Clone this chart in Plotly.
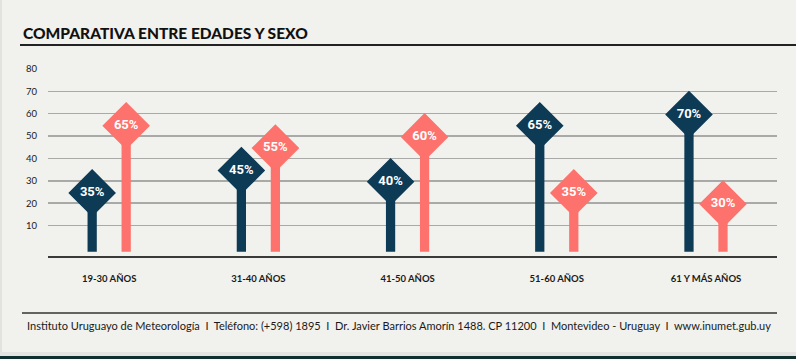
import plotly.graph_objects as go

categories = ["19-30 AÑOS", "31-40 AÑOS", "41-50 AÑOS", "51-60 AÑOS", "61 Y MÁS AÑOS"]
navy_pct = [35, 45, 40, 65, 70]
salmon_pct = [65, 55, 60, 35, 30]
y_ticks = [10, 20, 30, 40, 50, 60, 70, 80]
title_text = "COMPARATIVA ENTRE EDADES Y SEXO"
footer_text = ("Instituto Uruguayo de Meteorología  I  Teléfono: (+598) 1895  I  "
               "Dr. Javier Barrios Amorín 1488. CP 11200  I  Montevideo - Uruguay  I  www.inumet.gub.uy")

NAVY = "#0d3a55"
SALMON = "#fd726c"
BG = "#f1f1ed"

W, H = 796, 359
ML, MR, MT, MB = 48, 19, 68, 103
PW, PH = W - ML - MR, H - MT - MB

def px_x(x):
    return (x - ML) / PW

def px_y(y):
    return (H - MB - y) / PH

DIAMOND_HALF = 10.4   # half height of the diamond in axis units
STEM_BASE = -1.7
STEM_W = 0.062
PAIR_OFF = 0.114

x_idx = list(range(len(categories)))

fig = go.Figure()

for vals, color, sign in [(navy_pct, NAVY, -1), (salmon_pct, SALMON, 1)]:
    tops = [v - DIAMOND_HALF for v in vals]
    fig.add_trace(go.Bar(
        x=x_idx, y=[t - STEM_BASE for t in tops], base=STEM_BASE,
        width=STEM_W, offset=sign * PAIR_OFF - STEM_W / 2,
        marker=dict(color=color, line=dict(width=0)),
        hoverinfo="skip", showlegend=False,
    ))
    fig.add_trace(go.Scatter(
        x=[i + sign * PAIR_OFF for i in x_idx], y=tops,
        mode="markers+text",
        marker=dict(symbol="diamond", size=35, color=color,
                    line=dict(color=color, width=1.5)),
        text=[f"{v}%" for v in vals], textposition="middle center",
        textfont=dict(family="Roboto", size=13, color="white", weight="bold"),
        cliponaxis=False, showlegend=False, hoverinfo="skip",
    ))

fig.update_layout(
    width=W, height=H,
    margin=dict(l=ML, r=MR, t=MT, b=MB),
    paper_bgcolor=BG, plot_bgcolor=BG,
    barmode="overlay",
    xaxis=dict(range=[-0.41, 4.476], tickvals=x_idx, ticktext=categories,
               showgrid=False, zeroline=False, showline=True,
               linecolor="#3a3a3a", linewidth=2.2, ticks="",
               ticklabelstandoff=12,
               tickfont=dict(family="Lato", size=9.5, color="#1a1a1a", weight="bold"),
               fixedrange=True),
    yaxis=dict(range=[-3.6, 80.4], tickvals=y_ticks, ticktext=[str(t) for t in y_ticks],
               showgrid=True, gridcolor="#a9a9a7", gridwidth=1.4,
               zeroline=False, showline=False, ticks="",
               ticklabelstandoff=10,
               tickfont=dict(family="Lato", size=9.5, color="#1a1a1a"),
               fixedrange=True),
    shapes=[
        dict(type="line", xref="paper", yref="paper",
             x0=px_x(20), x1=px_x(796), y0=px_y(45), y1=px_y(45),
             line=dict(color="#222222", width=1.8)),
        dict(type="line", xref="paper", yref="paper",
             x0=px_x(22), x1=px_x(777), y0=px_y(313), y1=px_y(313),
             line=dict(color="#333333", width=1.5)),
        dict(type="rect", xref="paper", yref="paper",
             x0=px_x(0), x1=px_x(796), y0=px_y(352), y1=px_y(356),
             fillcolor="#e4e4e2", line=dict(width=0), layer="above"),
        dict(type="rect", xref="paper", yref="paper",
             x0=px_x(0), x1=px_x(796), y0=px_y(356), y1=px_y(360),
             fillcolor="#10302f", line=dict(width=0), layer="above"),
        dict(type="rect", xref="paper", yref="paper",
             x0=px_x(0), x1=px_x(2), y0=px_y(0), y1=px_y(352),
             fillcolor="#e2e2e0", line=dict(width=0), layer="above"),
    ],
    annotations=[
        dict(text=title_text, xref="paper", yref="paper",
             x=px_x(21), y=px_y(33), xanchor="left", yanchor="middle",
             showarrow=False,
             font=dict(family="Lato", size=15.5, color="#111111", weight=900)),
        dict(text=footer_text, xref="paper", yref="paper",
             x=px_x(25), y=px_y(325), xanchor="left", yanchor="middle",
             showarrow=False,
             font=dict(family="Lato", size=11, color="#1a1a1a")),
    ],
)

fig.write_html(
    "out.html",
    config={"displayModeBar": False, "staticPlot": True},
    post_script="document.body.style.margin='0';document.body.style.overflow='hidden';",
)
